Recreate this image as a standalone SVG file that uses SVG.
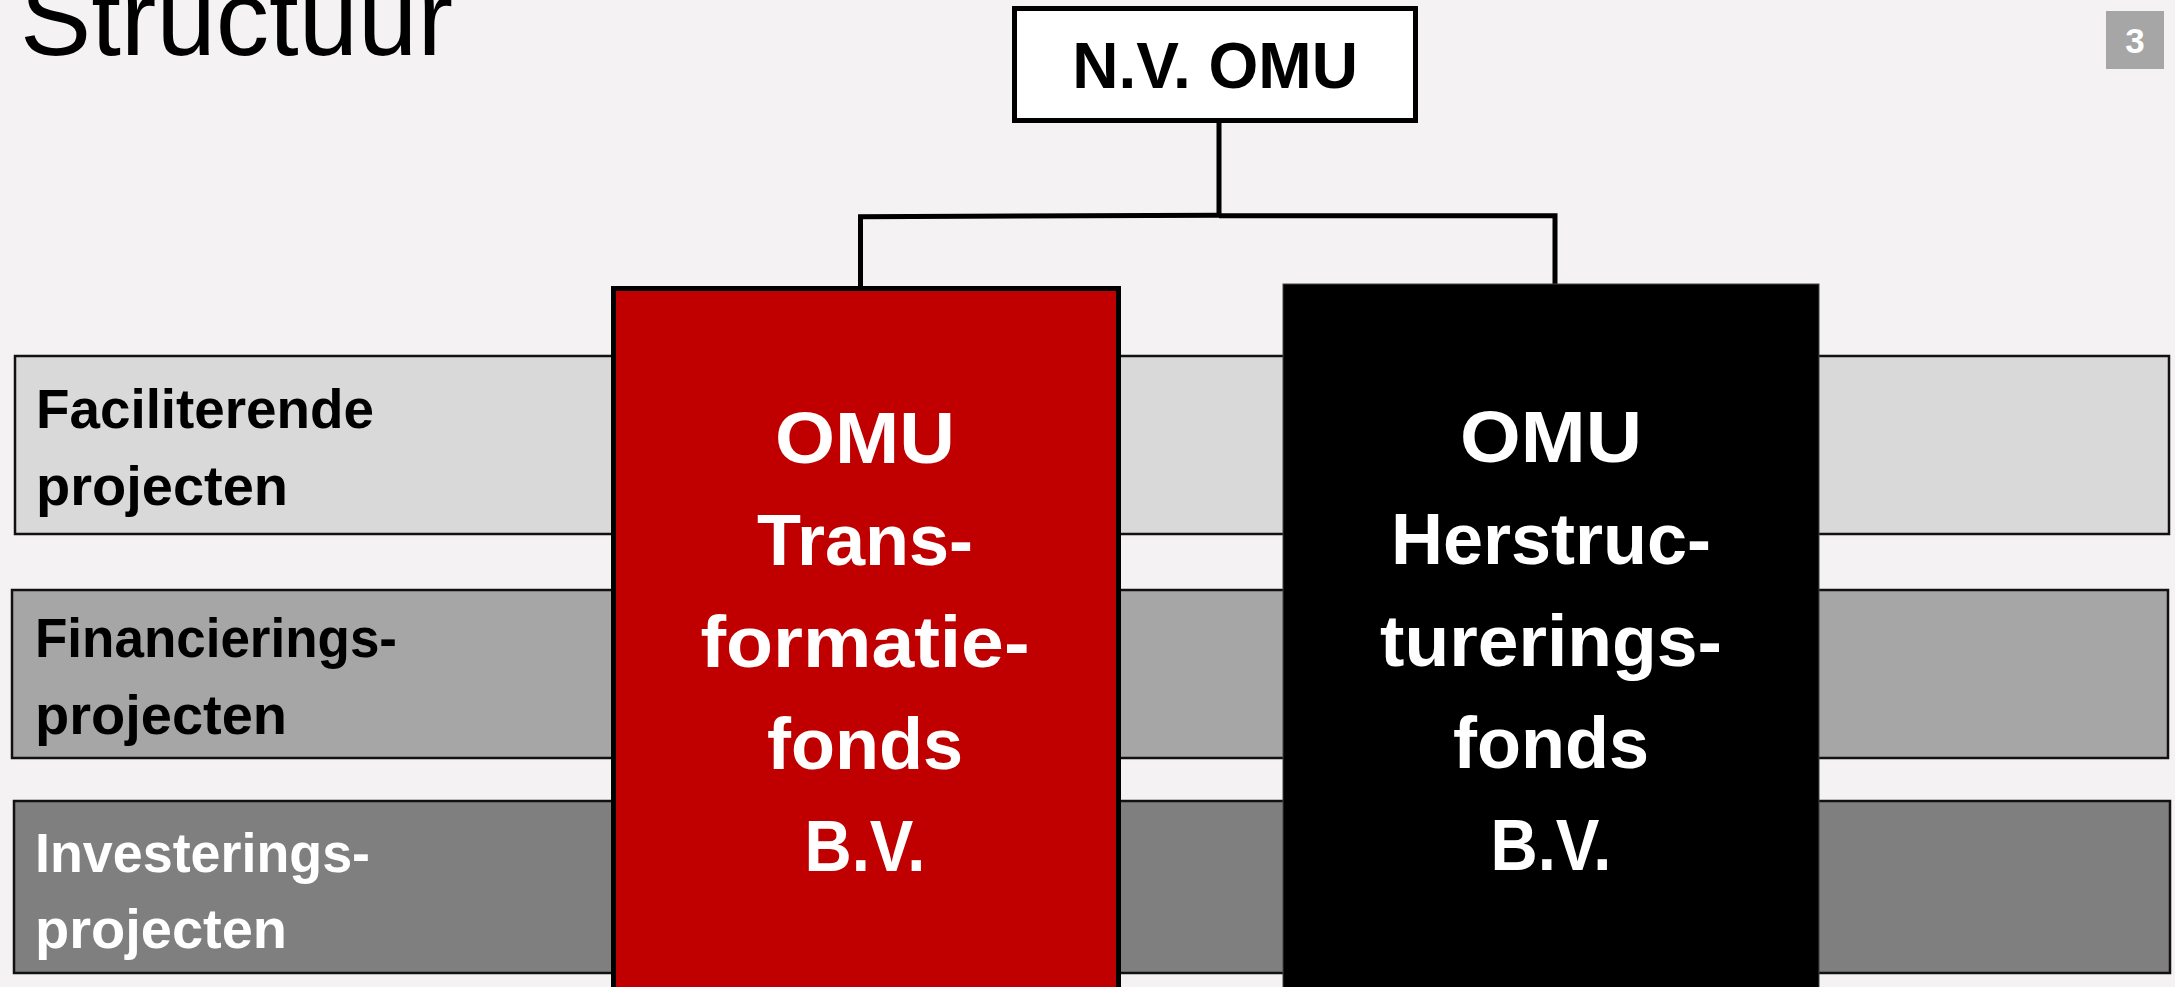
<svg xmlns="http://www.w3.org/2000/svg" width="2175" height="987" viewBox="0 0 2175 987">
<style>
.bar{stroke:#111;stroke-width:2.5}
.lbl{font-family:"Liberation Sans",Arial,sans-serif;font-weight:bold;font-size:56px}
.big{font-family:"Liberation Sans",Arial,sans-serif;font-weight:bold;font-size:72px;fill:#fff;text-anchor:middle}
.conn{fill:none;stroke:#000;stroke-width:5;stroke-linejoin:miter}
</style>
<rect x="0" y="0" width="2175" height="987" fill="#F4F2F3"/>
<text x="20" y="55" font-family="'Liberation Sans',Arial,sans-serif" font-size="108" fill="#000" textLength="433" lengthAdjust="spacingAndGlyphs">Structuur</text>
<g id="pagenum">
<rect x="2106" y="11" width="58" height="58" fill="#A6A6A6"/>
<text x="2135" y="53" font-family="'Liberation Sans',Arial,sans-serif" font-weight="bold" font-size="35" fill="#fff" text-anchor="middle">3</text>
</g>
<g id="bar-faciliterende">
<rect class="bar" x="15" y="356" width="2154" height="178" fill="#D9D9D9"/>
<text class="lbl" x="36" y="428" fill="#000" textLength="338" lengthAdjust="spacingAndGlyphs">Faciliterende</text>
<text class="lbl" x="36" y="505" fill="#000">projecten</text>
</g>
<g id="bar-financierings">
<rect class="bar" x="12" y="590" width="2156" height="168" fill="#A6A6A6"/>
<text class="lbl" x="35" y="657" fill="#000" textLength="362" lengthAdjust="spacingAndGlyphs">Financierings-</text>
<text class="lbl" x="35" y="734" fill="#000">projecten</text>
</g>
<g id="bar-investerings">
<rect class="bar" x="14" y="801" width="2156" height="172" fill="#7F7F7F"/>
<text class="lbl" x="35" y="872" fill="#fff" textLength="335" lengthAdjust="spacingAndGlyphs">Investerings-</text>
<text class="lbl" x="35" y="948" fill="#fff">projecten</text>
</g>
<g id="connectors">
<path class="conn" d="M1219 123 V216"/>
<path class="conn" d="M860.5 287 V216.7 L1219 215.3"/>
<path class="conn" d="M1219 215.8 H1555 V285"/>
</g>
<g id="nv-omu">
<rect x="1014.5" y="8.5" width="401" height="112" fill="#fff" stroke="#000" stroke-width="5"/>
<text x="1215" y="88" font-family="'Liberation Sans',Arial,sans-serif" font-weight="bold" font-size="64" fill="#000" text-anchor="middle">N.V. OMU</text>
</g>
<g id="transformatiefonds">
<rect x="613.5" y="288.5" width="505" height="720" fill="#C00000" stroke="#000" stroke-width="5"/>
<text class="big" x="865" y="463" textLength="180" lengthAdjust="spacingAndGlyphs">OMU</text>
<text class="big" x="865" y="565">Trans-</text>
<text class="big" x="865" y="667" textLength="329" lengthAdjust="spacingAndGlyphs">formatie-</text>
<text class="big" x="865" y="769">fonds</text>
<text class="big" x="865" y="871" textLength="121" lengthAdjust="spacingAndGlyphs">B.V.</text>
</g>
<g id="herstructureringsfonds">
<rect x="1283" y="284" width="536" height="720" fill="#000" stroke="#444" stroke-width="1"/>
<text class="big" x="1551" y="462" textLength="182" lengthAdjust="spacingAndGlyphs">OMU</text>
<text class="big" x="1551" y="564">Herstruc-</text>
<text class="big" x="1551" y="666" textLength="342" lengthAdjust="spacingAndGlyphs">turerings-</text>
<text class="big" x="1551" y="768">fonds</text>
<text class="big" x="1551" y="870" textLength="121" lengthAdjust="spacingAndGlyphs">B.V.</text>
</g>
</svg>
